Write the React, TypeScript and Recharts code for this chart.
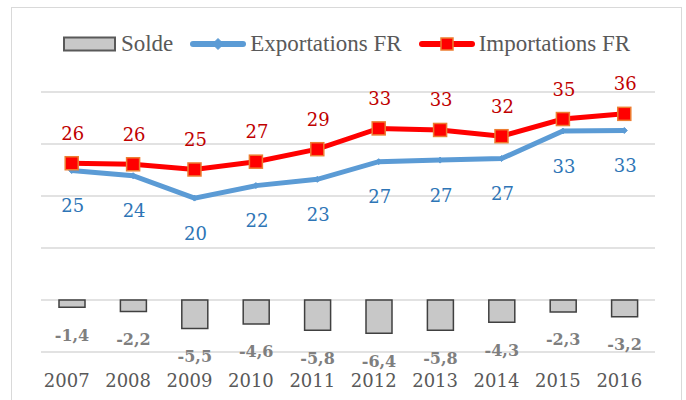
import React from "react";
import {
  ComposedChart,
  Bar,
  Line,
  XAxis,
  YAxis,
  CartesianGrid,
  Legend,
  LabelList,
} from "recharts";

const years = ["2007", "2008", "2009", "2010", "2011", "2012", "2013", "2014", "2015", "2016"];
const exportations = [24.9, 23.9, 19.6, 22.0, 23.2, 26.6, 26.9, 27.2, 32.5, 32.6];
const importations = [26.3, 26.1, 25.1, 26.6, 29.0, 33.0, 32.7, 31.5, 34.8, 35.8];
const solde = [-1.4, -2.2, -5.5, -4.6, -5.8, -6.4, -5.8, -4.3, -2.3, -3.2];
const yTicks = [-10, 0, 10, 20, 30, 40];

const data = years.map((year, i) => ({
  year,
  solde: solde[i],
  exportations: exportations[i],
  importations: importations[i],
}));

const NUM_FONT = "'DejaVu Serif', serif";
const TXT_FONT = "'Liberation Serif', serif";

const BLUE = "#5b9bd5";
const RED = "#ff0000";
const ORANGE = "#ed7d31";

function Diamond({ cx, cy, r = 7 }: any) {
  if (cx == null || cy == null) return null;
  return (
    <path
      d={`M${cx},${cy - r} L${cx + r},${cy} L${cx},${cy + r} L${cx - r},${cy} Z`}
      fill={BLUE}
      stroke={BLUE}
    />
  );
}

function Square({ cx, cy, s = 6.5 }: any) {
  if (cx == null || cy == null) return null;
  return (
    <rect
      x={cx - s}
      y={cy - s}
      width={s * 2}
      height={s * 2}
      fill={RED}
      stroke={ORANGE}
      strokeWidth={1.5}
    />
  );
}

function SoldeLabel(props: any) {
  const { x, y, width, height, value } = props;
  const bottom = Math.max(y, y + height);
  return (
    <text
      x={x + width / 2}
      y={bottom + 28}
      textAnchor="middle"
      dominantBaseline="central"
      fill="#7f7f7f"
      fontFamily={NUM_FONT}
      fontWeight="bold"
      fontSize={16}
    >
      {Number(value).toFixed(1).replace(".", ",")}
    </text>
  );
}

function PointLabel(color: string, dyCenter: number) {
  return (props: any) => {
    const { x, y, value } = props;
    return (
      <text
        x={x + 1}
        y={y + dyCenter}
        textAnchor="middle"
        dominantBaseline="central"
        fill={color}
        fontFamily={NUM_FONT}
        fontSize={18}
      >
        {Math.round(Number(value))}
      </text>
    );
  };
}

function YearTick({ x, y, payload }: any) {
  return (
    <text
      x={x - 5}
      y={y}
      dy={27}
      textAnchor="middle"
      fill="#595959"
      fontFamily={NUM_FONT}
      fontSize={18}
    >
      {payload.value}
    </text>
  );
}

function LegendBox() {
  const item: React.CSSProperties = { display: "flex", alignItems: "center", marginRight: 17 };
  const label: React.CSSProperties = { color: "#595959", fontFamily: TXT_FONT, fontSize: 23, marginLeft: 4, lineHeight: "28px" };
  return (
    <div style={{ display: "flex", justifyContent: "center", alignItems: "center", height: 28, paddingLeft: 24 }}>
      <div style={item}>
        <svg width={54} height={16}>
          <rect x={1} y={1.5} width={51} height={13} fill="#c8c8c8" stroke="#595959" strokeWidth={2} />
        </svg>
        <span style={label}>Solde</span>
      </div>
      <div style={item}>
        <svg width={56} height={16}>
          <line x1={3} y1={8} x2={53} y2={8} stroke={BLUE} strokeWidth={6} strokeLinecap="round" />
          <Diamond cx={28} cy={8} r={5.5} />
        </svg>
        <span style={label}>Exportations FR</span>
      </div>
      <div style={item}>
        <svg width={56} height={16}>
          <line x1={3} y1={8} x2={53} y2={8} stroke={RED} strokeWidth={6} strokeLinecap="round" />
          <Square cx={28} cy={8} s={6} />
        </svg>
        <span style={label}>Importations FR</span>
      </div>
    </div>
  );
}

export default function App() {
  return (
    <div style={{ position: "absolute", left: 0, top: 0, width: 686, height: 400, background: "#fff", overflow: "hidden" }}>
      <div
        style={{
          position: "absolute",
          left: 11,
          top: 7,
          width: 671,
          height: 420,
          border: "1.5px solid #d9d9d9",
          boxSizing: "border-box",
        }}
      />
      <ComposedChart
        width={686}
        height={400}
        data={data}
        margin={{ top: 64, right: 31, bottom: 18, left: 41 }}
        barSize={26}
      >
        <CartesianGrid vertical={false} stroke="#d9d9d9" strokeWidth={1.5} />
        <XAxis dataKey="year" axisLine={false} tickLine={false} height={30} tick={<YearTick />} interval={0} />
        <YAxis hide domain={[-10, 40]} ticks={yTicks} />
        <Legend
          verticalAlign="top"
          content={() => <LegendBox />}
          wrapperStyle={{ top: 30, left: 0, width: 686 }}
        />
        <Bar dataKey="solde" name="Solde" fill="#c8c8c8" stroke="#404040" strokeWidth={1.5} isAnimationActive={false}>
          <LabelList dataKey="solde" content={<SoldeLabel />} />
        </Bar>
        <Line
          dataKey="exportations"
          name="Exportations FR"
          stroke={BLUE}
          strokeWidth={5}
          dot={<Diamond />}
          activeDot={false}
          isAnimationActive={false}
        >
          <LabelList dataKey="exportations" content={PointLabel("#2e75b6", 35)} />
        </Line>
        <Line
          dataKey="importations"
          name="Importations FR"
          stroke={RED}
          strokeWidth={5}
          dot={<Square />}
          activeDot={false}
          isAnimationActive={false}
        >
          <LabelList dataKey="importations" content={PointLabel("#c00000", -30)} />
        </Line>
      </ComposedChart>
    </div>
  );
}
